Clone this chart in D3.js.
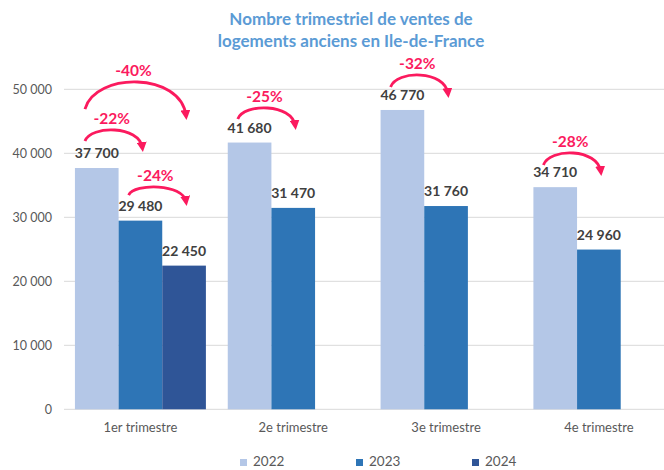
<!DOCTYPE html>
<html lang="fr">
<head>
<meta charset="utf-8">
<title>Ventes de logements anciens</title>
<script src="https://d3js.org/d3.v7.min.js"></script>
<style>
  body { margin: 0; background: #fff; }
  svg { display: block; font-family: Lato, "Open Sans", sans-serif; }
</style>
</head>
<body>
<div id="viz"></div>
<script>
// data
const quarters = ["1er trimestre", "2e trimestre", "3e trimestre", "4e trimestre"];
const years = ["2022", "2023", "2024"];
const values2022 = [37700, 41680, 46770, 34710];
const values2023 = [29480, 31470, 31760, 24960];
const values2024 = [22450, null, null, null];
const yTicks = [0, 10000, 20000, 30000, 40000, 50000];

// evolution arrows: start level / arc top given in data units
const arrows = [
  {q: 0, from: "2022", to: "2024", label: "-40%", start: 46920, top: 51140},
  {q: 0, from: "2022", to: "2023", label: "-22%", start: 41920, top: 43640},
  {q: 0, from: "2023", to: "2024", label: "-24%", start: 33480, top: 34730},
  {q: 1, from: "2022", to: "2023", label: "-25%", start: 45360, top: 47080},
  {q: 2, from: "2022", to: "2023", label: "-32%", start: 50360, top: 52230},
  {q: 3, from: "2022", to: "2023", label: "-28%", start: 38170, top: 40050}
];

const colors = {"2022": "#b4c7e7", "2023": "#2e75b6", "2024": "#2f5597"};
const pink = "#fb1a5e";

const W = 664, H = 470;
const svg = d3.select("#viz").append("svg")
    .attr("width", W).attr("height", H);

const x0 = d3.scaleBand().domain(quarters).range([64, 675.3])
    .paddingInner(0.143).paddingOuter(0.0715);
const x1 = d3.scaleBand().domain(years).range([0, x0.bandwidth()]);
const y = d3.scaleLinear().domain([0, 50000]).range([409.3, 89.3]);

const fmt = v => d3.format(",")(v).replace(/,/g, " ");

// title
svg.append("text")
    .attr("x", 351).attr("y", 25)
    .attr("text-anchor", "middle")
    .attr("font-size", 17).attr("font-weight", "bold")
    .attr("fill", "#5b9bd5")
    .selectAll("tspan")
    .data(["Nombre trimestriel de ventes de", "logements anciens en Ile-de-France"])
    .join("tspan")
      .attr("x", 351)
      .attr("dy", (d, i) => i ? 22 : 0)
      .text(d => d);

// gridlines + y labels
const yAxis = svg.append("g");
yAxis.selectAll("line").data(yTicks).join("line")
    .attr("x1", 64).attr("x2", W)
    .attr("y1", d => y(d)).attr("y2", d => y(d))
    .attr("stroke", "#d9d9d9").attr("stroke-width", 1);
yAxis.selectAll("text").data(yTicks).join("text")
    .attr("x", 52).attr("y", d => y(d))
    .attr("dy", "0.35em")
    .attr("text-anchor", "end")
    .attr("font-size", 12.5).attr("fill", "#595959")
    .text(fmt);

// bars
const rows = quarters.map((q, i) => ({
  q,
  items: years.map((yr, j) => ({year: yr, value: [values2022, values2023, values2024][j][i]}))
    .filter(d => d.value != null)
}));

const groups = svg.append("g").selectAll("g").data(rows).join("g")
    .attr("transform", d => `translate(${x0(d.q)},0)`);

groups.selectAll("rect").data(d => d.items).join("rect")
    .attr("x", d => x1(d.year))
    .attr("width", x1.bandwidth())
    .attr("y", d => y(d.value))
    .attr("height", d => y(0) - y(d.value))
    .attr("fill", d => colors[d.year]);

groups.selectAll("text.val").data(d => d.items).join("text")
    .attr("class", "val")
    .attr("x", d => x1(d.year) + x1.bandwidth() / 2)
    .attr("y", d => y(d.value) - 10)
    .attr("text-anchor", "middle")
    .attr("font-size", 14).attr("font-weight", "bold")
    .attr("fill", "#404040")
    .text(d => fmt(d.value));

// category labels
svg.append("g").selectAll("text").data(quarters).join("text")
    .attr("x", d => x0(d) + x0.bandwidth() / 2)
    .attr("y", 432)
    .attr("text-anchor", "middle")
    .attr("font-size", 13).attr("fill", "#595959")
    .text(d => d);

// arrows
svg.append("defs").append("marker")
    .attr("id", "head")
    .attr("viewBox", "0 0 10 10")
    .attr("refX", 6).attr("refY", 5)
    .attr("markerWidth", 10).attr("markerHeight", 10)
    .attr("markerUnits", "userSpaceOnUse")
    .attr("orient", "auto")
  .append("path")
    .attr("d", "M0,0 L10,5 L0,10 z")
    .attr("fill", pink);

const ann = svg.append("g");
arrows.forEach(a => {
  const gx = x0(quarters[a.q]);
  const bx = x1.bandwidth();
  const sx = gx + x1(a.from) + bx * 0.23;
  const ex = gx + x1(a.to) + bx / 2 + 2;
  const sy = y(a.start);
  const ey = sy + 7;
  const py = y(a.top);
  const dx = ex - sx;
  const cy = (8 * py - sy - ey) / 6;
  ann.append("path")
      .attr("d", `M${sx},${sy} C${sx + 0.1 * dx},${cy} ${ex - 0.05 * dx},${cy} ${ex},${ey}`)
      .attr("fill", "none")
      .attr("stroke", pink)
      .attr("stroke-width", 2.8)
      .attr("marker-end", "url(#head)");
  ann.append("text")
      .attr("x", (sx + ex) / 2 - 2)
      .attr("y", py - 6)
      .attr("text-anchor", "middle")
      .attr("font-size", 15.5).attr("font-weight", "bold")
      .attr("fill", pink)
      .text(a.label);
});

// legend
const legend = svg.append("g").selectAll("g").data(years).join("g")
    .attr("transform", (d, i) => `translate(${240 + i * 116},0)`);
legend.append("rect")
    .attr("x", 0).attr("y", 459)
    .attr("width", 7).attr("height", 7)
    .attr("fill", d => colors[d]);
legend.append("text")
    .attr("x", 13).attr("y", 466)
    .attr("font-size", 13.5).attr("fill", "#595959")
    .text(d => d);
</script>
</body>
</html>
